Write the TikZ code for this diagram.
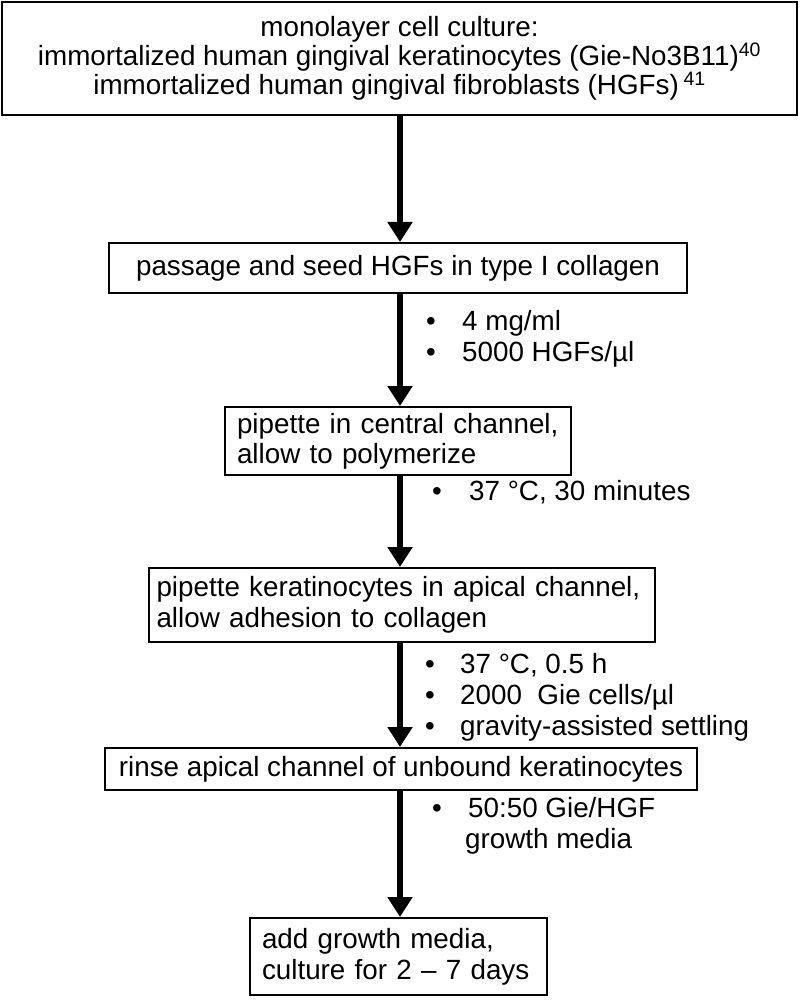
\documentclass[tikz,border=0pt]{standalone}
\usepackage{fontspec}
\setmainfont{Liberation Sans}
\usetikzlibrary{arrows.meta}
\newcommand{\bul}[1]{\makebox[#1][l]{•}}
\begin{document}
\begin{tikzpicture}[x=1pt,y=-1pt,
  stepbox/.style={draw=black,line width=2pt,inner sep=0pt,minimum width=#1},
  arr/.style={line width=6pt,-{Triangle[length=20pt,width=24pt]}},
  lbl/.style={anchor=north west,align=left,inner sep=0pt,font=\fontsize{27.8}{31}\selectfont}]
\useasboundingbox (0,0) rectangle (800,1000);
\coordinate (ax) at (400,0);
\node[stepbox=795pt,minimum height=113pt,align=center,font=\fontsize{27.8}{29}\selectfont] (b1) at (399.5,58.5)
  {monolayer cell culture:\\immortalized human gingival keratinocytes (Gie-No3B11)\textsuperscript{40}\\immortalized human gingival fibroblasts (HGFs)\,\textsuperscript{41}};
\node[stepbox=578pt,minimum height=50pt,font=\fontsize{27.8}{30}\selectfont] (b2) at (398,268)
  {passage and seed HGFs in type I collagen};
\node[stepbox=346pt,minimum height=68pt,text width=322pt,align=left,font=\fontsize{27.8}{30}\selectfont] (b3) at (398,441)
  {\mbox{pipette in central channel,}\\\mbox{allow to polymerize}};
\node[stepbox=506pt,minimum height=74pt,text width=490pt,align=left,font=\fontsize{27.8}{31}\selectfont] (b4) at (401.5,605)
  {\mbox{pipette keratinocytes in apical channel,}\\\mbox{allow adhesion to collagen}};
\node[stepbox=592pt,minimum height=42pt,font=\fontsize{27.8}{30}\selectfont] (b5) at (401,769)
  {rinse apical channel of unbound keratinocytes};
\node[stepbox=297pt,minimum height=77pt,text width=273pt,align=left,font=\fontsize{27.8}{31}\selectfont] (b6) at (398.5,956.5)
  {\mbox{add growth media,}\\\mbox{culture for 2 – 7 days}};
\draw[arr] (b1.south -| ax) -- (b2.north -| ax);
\draw[arr] (b2.south -| ax) -- (b3.north -| ax);
\draw[arr] (b3.south -| ax) -- (b4.north -| ax);
\draw[arr] (b4.south -| ax) -- (b5.north -| ax);
\draw[arr] (b5.south -| ax) -- (b6.north -| ax);
\node[lbl] (l2) at (426,310) {\bul{36pt}4 mg/ml\\\bul{36pt}5000 HGFs/µl};
\node[lbl] (l3) at (432,480) {\bul{37pt}37 °C, 30 minutes};
\node[lbl] (l4) at (425,653) {\bul{35pt}37 °C, 0.5 h\\\bul{35pt}2000\ \ Gie cells/µl\\\bul{35pt}gravity-assisted settling};
\node[lbl] (l5) at (432,797) {\bul{36pt}50:50 Gie/HGF\\\hspace*{33pt}growth media};
\end{tikzpicture}
\end{document}
